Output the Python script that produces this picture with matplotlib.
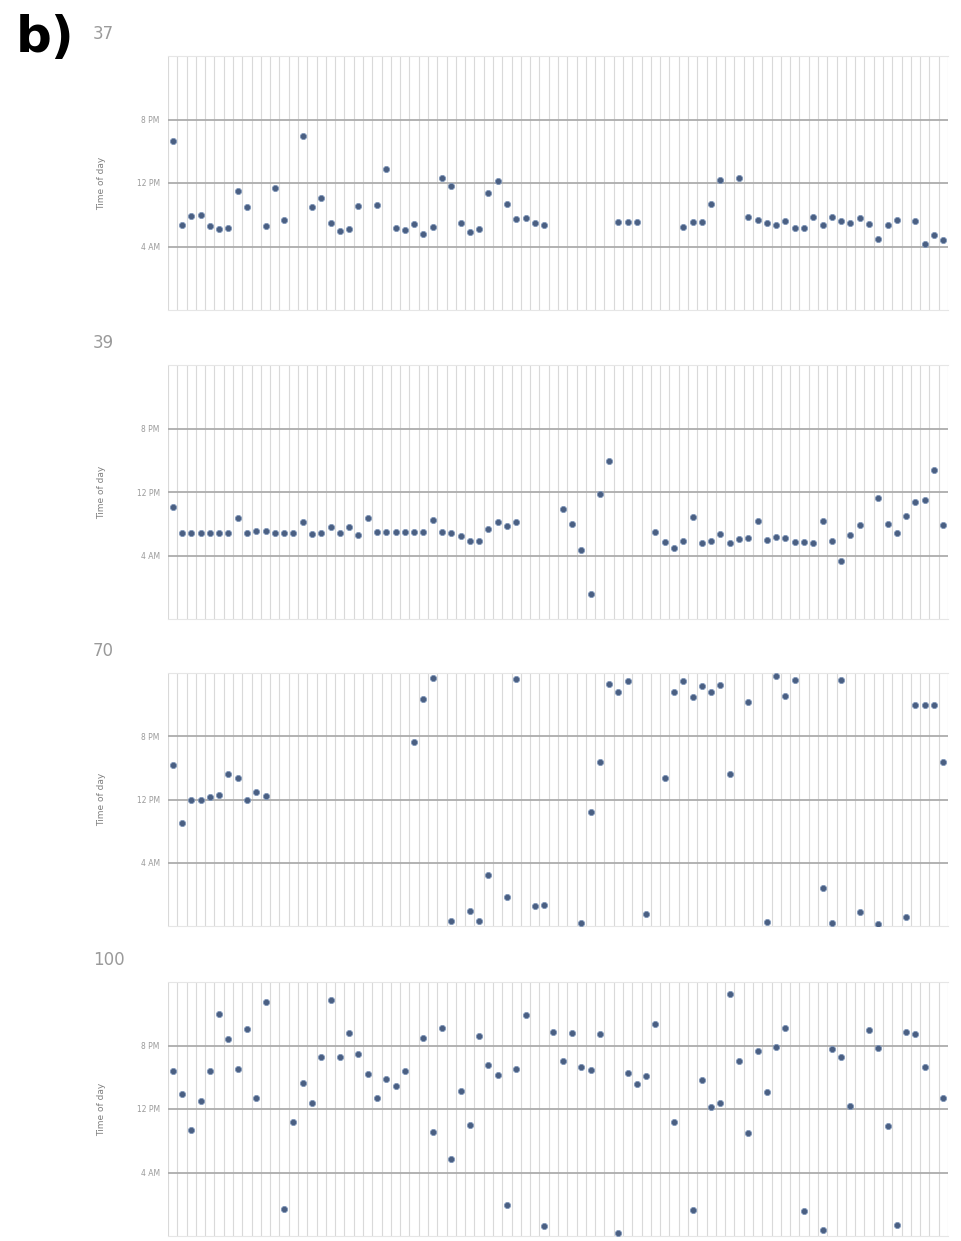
import numpy as np
import matplotlib
matplotlib.use("Agg")
import matplotlib.pyplot as plt

# time of day (hours, values <0 are the evening before, >24 the early morning after)
# one entry per day, None = no record that day
n_days = 84
panel_ids = ["37", "39", "70", "100"]

hours_37 = [17.3, 6.65, 7.9, 8.0, 6.6, 6.2, 6.3, 11.0, 9.0, None,
            6.6, 11.35, 7.36, None, 17.9, 8.95, 10.1, 6.94, 5.93, 6.23,
            9.04, None, 9.17, 13.8, 6.3, 6.1, 6.86, 5.6, 6.4, 12.65,
            11.56, 7.0, 5.8, 6.23, 10.77, 12.2, 9.3, 7.5, 7.6, 6.9,
            6.77, None, None, None, None, None, None, None, 7.06, 7.06,
            7.1, None, None, None, None, 6.43, 7.06, 7.06, 9.38, 12.4,
            None, 12.6, 7.7, 7.4, 6.94, 6.65, 7.2, 6.3, 6.35, 7.7,
            6.77, 7.7, 7.15, 6.94, 7.6, 6.86, 4.97, 6.77, 7.4, None,
            7.2, 4.34, 5.4, 4.76]

hours_39 = [10.08, 6.78, 6.78, 6.78, 6.78, 6.78, 6.78, 8.7, 6.78, 7.04,
            7.04, 6.78, 6.78, 6.78, 8.27, 6.7, 6.78, 7.55, 6.85, 7.6,
            6.6, 8.7, 6.9, 6.9, 6.9, 6.9, 6.9, 6.9, 8.5, 6.9,
            6.78, 6.5, 5.77, 5.77, 7.34, 8.18, 7.76, 8.18, None, None,
            None, None, 9.87, 7.97, 4.68, -0.81, 11.77, 15.86, None, None,
            None, None, 6.9, 5.65, 5.0, 5.86, 8.9, 5.52, 5.86, 6.7,
            5.52, 6.08, 6.15, 8.3, 5.95, 6.28, 6.2, 5.65, 5.65, 5.52,
            8.3, 5.86, 3.33, 6.58, 7.9, None, 11.3, 7.97, 6.84, 9.0,
            10.7, 11.05, 14.8, 7.9]

hours_70 = [16.37, 9.03, 12.0, 12.0, 12.3, 12.6, 15.2, 14.7, 11.9, 12.9,
            12.5, None, None, None, None, None, None, None, None, None,
            None, None, None, None, None, None, 19.3, 24.77, 27.4, None,
            -3.36, None, -2.1, -3.36, 2.39, None, -0.29, 27.3, None, -1.47,
            -1.4, None, None, None, -3.65, 10.36, 16.7, 26.6, 25.6, 27.0,
            None, -2.52, None, 14.7, 25.6, 27.0, 25.0, 26.3, 25.6, 26.45,
            15.24, None, 24.3, None, -3.5, 27.6, 25.06, 27.1, None, None,
            0.84, -3.65, 27.1, None, -2.2, None, -3.8, None, None, -2.8,
            23.9, 23.9, 23.9, 16.8]

hours_100 = [16.75, 13.9, 9.4, 12.96, 16.75, 24.0, 20.8, 17.1, 22.1, 13.4,
             25.5, None, -0.59, 10.36, 15.3, 12.8, 18.5, 25.7, 18.5, 21.6,
             18.9, 16.4, 13.4, 15.8, 14.85, 16.75, None, 21.0, 9.05, 22.2,
             5.72, 14.3, 10.0, 21.2, 17.5, 16.3, -0.08, 17.1, 23.8, None,
             -2.8, 21.7, 18.0, 21.6, 17.3, 16.96, 21.5, None, -3.66, 16.5,
             15.16, 16.2, 22.7, None, 10.36, None, -0.7, 15.6, 12.2, 12.8,
             26.5, 18.1, 9.0, 19.3, 14.15, 19.8, 22.2, None, -0.8, None,
             -3.24, 19.5, 18.6, 12.4, None, 22.0, 19.7, 9.9, -2.6, 21.7,
             21.4, 17.3, None, 13.4]

tick_hours = [4, 12, 20]
tick_labels = ["4 AM", "12 PM", "8 PM"]

all_hours = [hours_37, hours_39, hours_70, hours_100]

W, H = 961, 1241
fig = plt.figure(figsize=(W / 100, H / 100), dpi=100)

# panel boxes in pixels: (top, bottom)
boxes = [(56, 310), (365, 619), (673, 926), (982, 1236)]
left_px, right_px = 168, 948

days = np.arange(n_days)
for pid, hrs, (top, bot) in zip(panel_ids, all_hours, boxes):
    ax = fig.add_axes([left_px / W, 1 - bot / H, (right_px - left_px) / W, (bot - top) / H])
    y = np.array([np.nan if v is None else v for v in hrs], dtype=float)

    # day dividers
    for b in np.arange(-0.5, n_days + 0.5, 1):
        ax.axvline(b, color="#d9d9d9", lw=0.8, zorder=0)
    for t in tick_hours:
        ax.axhline(t, color="#acacac", lw=1.3, zorder=1)

    ax.scatter(days, y, s=20, color="#4a5f82", edgecolors="#8198ba",
               linewidths=0.6, zorder=3)

    ax.set_xlim(-0.5, n_days - 0.5)
    ax.set_ylim(-4, 28)
    ax.set_xticks([])
    ax.set_yticks(tick_hours)
    ax.set_yticklabels(tick_labels, fontsize=5.5, color="#9a9a9a")
    ax.tick_params(axis="y", length=0, pad=6)
    for side in ["left", "right"]:
        ax.spines[side].set_visible(False)
    for side in ["top", "bottom"]:
        ax.spines[side].set_color("#e6e6e6")
        ax.spines[side].set_linewidth(0.8)

    ax.set_ylabel("Time of day", fontsize=6.5, color="#808080")
    ax.yaxis.set_label_coords(-(left_px - 106) / (right_px - left_px), 0.5)

    fig.text(93 / W, 1 - (top - 22) / H, pid, fontsize=12, color="#9a9a9a",
             ha="left", va="center")

fig.text(16 / W, 1 - 38 / H, "b)", fontsize=36, fontweight="bold",
         color="black", ha="left", va="center")

fig.savefig("out.png", dpi=100, facecolor="white")
